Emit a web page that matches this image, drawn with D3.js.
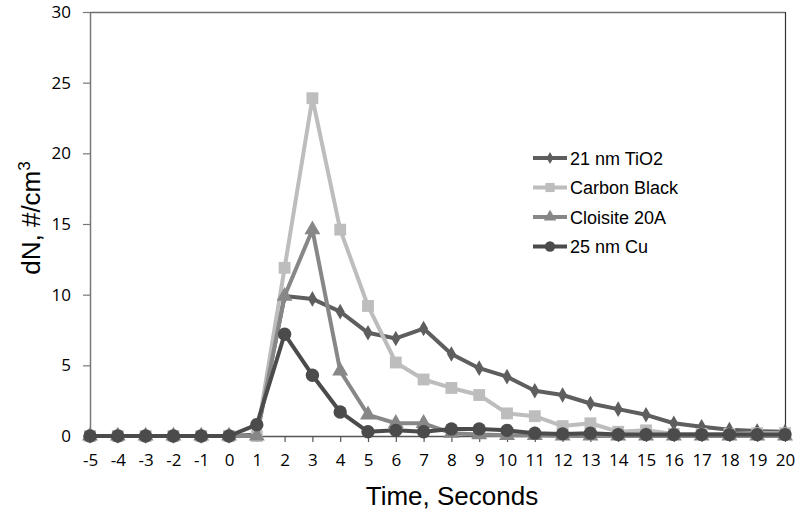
<!DOCTYPE html>
<html><head><meta charset="utf-8">
<script src="https://cdn.jsdelivr.net/npm/d3@7"></script>
<style>body{margin:0;background:#fff}svg{display:block}</style>
</head><body><svg id="c" width="800" height="511"></svg>
<script>
const times = [-5,-4,-3,-2,-1,0,1,2,3,4,5,6,7,8,9,10,11,12,13,14,15,16,17,18,19,20];
const tio2 = [0,0,0,0,0,0,0.1,9.9,9.7,8.8,7.3,6.9,7.6,5.8,4.8,4.2,3.2,2.9,2.3,1.9,1.5,0.9,0.65,0.45,0.35,0.3];
const carbonBlack = [0,0,0,0,0,0,0,11.9,23.9,14.6,9.2,5.2,4.0,3.4,2.9,1.6,1.4,0.7,0.9,0.3,0.4,0.15,0.15,0.15,0.2,0.2];
const cloisite = [0,0,0,0,0,0,0,9.9,14.6,4.6,1.5,0.9,0.9,0.2,0.1,0.05,0.05,0,0,0,0,0,0,0,0,0];
const cu = [0,0,0,0,0,0,0.8,7.2,4.3,1.7,0.3,0.4,0.3,0.5,0.5,0.4,0.2,0.15,0.2,0.1,0.1,0.1,0.1,0.1,0.1,0.1];
const yTicks = [0,5,10,15,20,25,30];
const seriesNames = ["21 nm TiO2","Carbon Black","Cloisite 20A","25 nm Cu"];

const series = [
  {name: seriesNames[0], values: tio2, color: "#5e5e5e", sym: d3.symbolDiamond, size: 70},
  {name: seriesNames[1], values: carbonBlack, color: "#bdbdbd", sym: d3.symbolSquare, size: 140},
  {name: seriesNames[2], values: cloisite, color: "#878787", sym: d3.symbolTriangle, size: 110},
  {name: seriesNames[3], values: cu, color: "#4b4b4b", sym: d3.symbolCircle, size: 140}
];

const svg = d3.select("#c");
const L = 90, R = 785, T = 12, B = 436;
const x = d3.scaleLinear().domain([-5,20]).range([L,R]);
const y = d3.scaleLinear().domain([0,30]).range([B,T]);

// frame
svg.append("line").attr("x1",L).attr("x2",R).attr("y1",T+0.5).attr("y2",T+0.5).attr("stroke","#6e6e6e").attr("stroke-width",1.5);
svg.append("line").attr("x1",R+0.5).attr("x2",R+0.5).attr("y1",T).attr("y2",B).attr("stroke","#333").attr("stroke-width",1.2);

// y axis
const ya = svg.append("g").attr("transform",`translate(${L},0)`)
  .call(d3.axisLeft(y).tickValues(yTicks).tickSize(7).tickSizeOuter(0).tickPadding(12));
ya.select(".domain").attr("stroke","#777").attr("stroke-width",1.5);
ya.selectAll(".tick line").attr("stroke","#777").attr("stroke-width",1.2);
ya.selectAll(".tick text").attr("font-family","'Open Sans', 'Noto Sans', sans-serif").attr("font-size",17).attr("fill","#000");

// x axis
const xa = svg.append("g").attr("transform",`translate(0,${B})`)
  .call(d3.axisBottom(x).tickValues(times).tickFormat(d3.format("d")).tickSize(6).tickSizeOuter(0).tickPadding(12));
xa.select(".domain").attr("stroke","#555").attr("stroke-width",1.5);
xa.selectAll(".tick line").attr("stroke","#555").attr("stroke-width",1.2);
xa.selectAll(".tick text").attr("font-family","'Open Sans', 'Noto Sans', sans-serif").attr("font-size",17).attr("fill","#000")
  .text(d => d < 0 ? "-" + Math.abs(d) : d);

// titles
svg.append("text").attr("x",452).attr("y",505).attr("text-anchor","middle")
  .attr("font-family","'Liberation Sans', Arial, sans-serif").attr("font-size",26).text("Time, Seconds");
const yt = svg.append("text").attr("transform","translate(40,218) rotate(-90)").attr("text-anchor","middle")
  .attr("font-family","'Liberation Sans', Arial, sans-serif").attr("font-size",26);
yt.append("tspan").text("dN, #/cm");
yt.append("tspan").attr("dy",-10).attr("font-size",17).text("3");

const line = d3.line().x((d,i)=>x(times[i])).y(d=>y(d));
series.forEach(s => {
  const g = svg.append("g");
  g.append("path").attr("d", line(s.values)).attr("fill","none").attr("stroke",s.color).attr("stroke-width",4).attr("stroke-linejoin","round");
  g.selectAll("path.m").data(s.values).enter().append("path").attr("class","m")
    .attr("d", d3.symbol().type(s.sym).size(s.size))
    .attr("transform",(d,i)=>`translate(${x(times[i])},${y(d)})`)
    .attr("fill",s.color);
});

// legend
const lg = svg.append("g");
series.forEach((s,i) => {
  const yy = 158 + i*29.5;
  lg.append("line").attr("x1",533).attr("x2",567).attr("y1",yy).attr("y2",yy).attr("stroke",s.color).attr("stroke-width",4);
  lg.append("path").attr("d", d3.symbol().type(s.sym).size(s.size*0.6)).attr("transform",`translate(550,${yy})`).attr("fill",s.color);
  lg.append("text").attr("x",570).attr("y",yy+6.5).attr("font-family","'Liberation Sans', Arial, sans-serif").attr("font-size",18).text(s.name);
});
</script></body></html>
